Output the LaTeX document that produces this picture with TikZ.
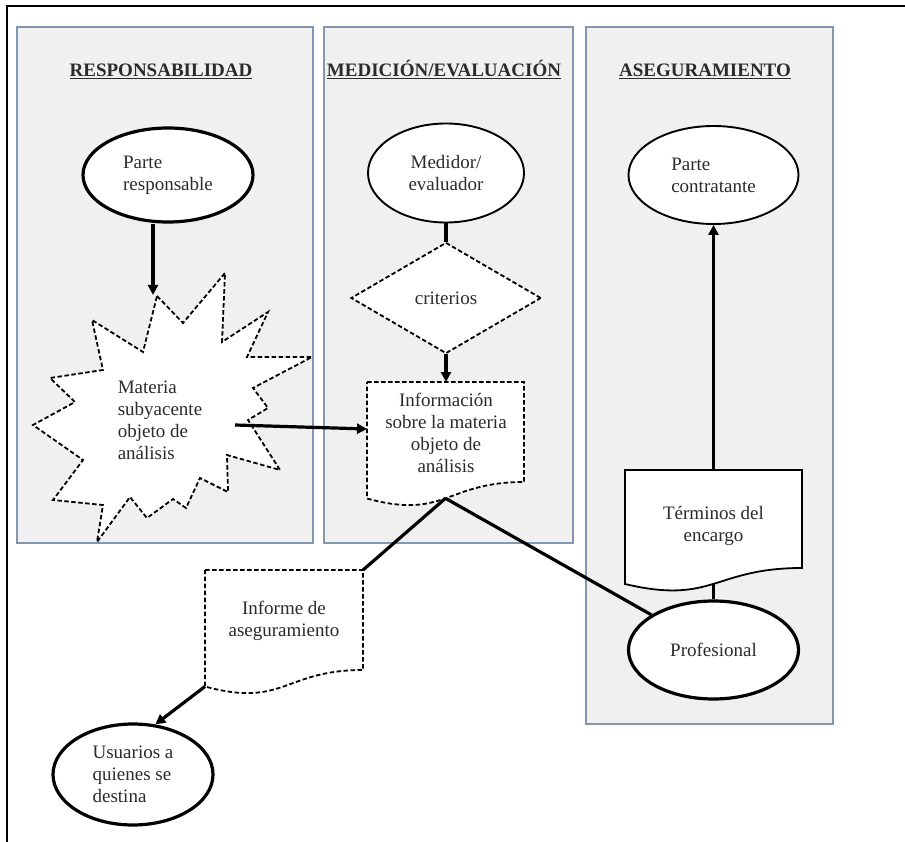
\documentclass[tikz,border=0pt]{standalone}
\usepackage{fontspec}
\setmainfont{Liberation Serif}
\usetikzlibrary{shapes.geometric,arrows.meta}
\definecolor{panelfill}{HTML}{F0F0F0}
\definecolor{paneldraw}{HTML}{8497B0}
\definecolor{txtcol}{HTML}{2B2B2B}
\begin{document}
\begin{tikzpicture}[x=1pt,y=-1pt,
  panel/.style={fill=panelfill,draw=paneldraw,line width=1.5pt},
  hdr/.style={font=\fontsize{19}{22}\selectfont\bfseries,text=txtcol,anchor=base,inner sep=0pt},
  lbl/.style={font=\fontsize{19}{22}\selectfont,text=txtcol,inner sep=0pt},
  ellbase/.style={ellipse,draw,fill=white,inner sep=0pt,font=\fontsize{19}{22}\selectfont,text=txtcol},
  ellthick/.style={ellbase,line width=3.2pt},
  ellthin/.style={ellbase,line width=1.9pt},
  dsh/.style={dash pattern=on 4.5pt off 2.5pt,line width=1.8pt},
  conn/.style={line width=3.2pt},
  arr/.style={conn,-{Triangle[length=10pt,width=10pt]}},
]
\useasboundingbox (0,0) rectangle (905,842);
\fill[white] (0,0) rectangle (905,842);
% frame
\draw[line width=2.6pt] (7,842) -- (7,6) -- (905,6);
% panels
\draw[panel] (17,27) rectangle (313,543);
\draw[panel] (324,27) rectangle (573,543);
\draw[panel] (586,27) rectangle (833,724);
% headers
\node[hdr] (h1) at (161,77) {\underline{RESPONSABILIDAD}};
\node[hdr] (h2) at (444,77) {\underline{MEDICIÓN/EVALUACIÓN}};
\node[hdr] (h3) at (705,77) {\underline{ASEGURAMIENTO}};

% responsabilidad column
\node[ellthick,minimum width=170pt,minimum height=94pt,align=left] (pr) at (168,175) {Parte\\responsable};
\draw[dsh,fill=white] (157,296) -- (183,323) -- (225,273) -- (222,342) -- (268,312) -- (247,357)
  -- (312,357) -- (253,388) -- (268,408) -- (248,420) -- (280,470) -- (227,455) -- (228,492)
  -- (200,478) -- (186,508) -- (173,499) -- (147,518) -- (130,497) -- (97,542) -- (103,505)
  -- (53,500) -- (83,460) -- (33,425) -- (75,402) -- (50,378) -- (103,370) -- (92,320)
  -- (143,352) -- cycle;
\node[lbl,align=left] (mat) at (160,420) {Materia\\subyacente\\objeto de\\análisis};
\coordinate (startip) at (153,295);
\coordinate (starr) at (235,425);

% medicion column
\node[ellthin,minimum width=156pt,minimum height=99pt,align=center] (med) at (446,173) {Medidor/\\evaluador};
\node[diamond,draw,fill=white,dsh,inner sep=0pt,minimum width=190pt,minimum height=111pt,lbl] (crit) at (446,298) {criterios};
\draw[dsh,fill=white] (367,382) -- (524,382) -- (524,482) .. controls (445.5,482) and (445.5,520) .. (367,498.5) -- cycle;
\node[lbl,align=center] (info) at (446,433) {Información\\sobre la materia\\objeto de\\análisis};
\coordinate (infotop) at (446,382);
\coordinate (infoleft) at (367,429);
\coordinate (infobot) at (445.5,498.3);

% aseguramiento column
\node[ellthin,minimum width=170pt,minimum height=98pt,align=left] (pc) at (713.5,175) {Parte\\contratante};
\draw[line width=1.8pt,fill=white] (625,470) -- (802,470) -- (802,568) .. controls (713.5,568) and (713.5,605) .. (625,584) -- cycle;
\node[lbl,align=center] (term) at (713.5,526) {Términos del\\encargo};
\coordinate (termtop) at (713.5,470);
\coordinate (termbot) at (713.5,584);
\node[ellthick,minimum width=170pt,minimum height=98pt] (prof) at (713.5,650) {Profesional};

% informe / usuarios
\draw[dsh,fill=white] (205,570) -- (363,570) -- (363,670) .. controls (284,670) and (284,708) .. (205,686.5) -- cycle;
\node[lbl,align=center] (inf) at (284,621) {Informe de\\aseguramiento};
\coordinate (inftr) at (363,570);
\coordinate (infbl) at (205,686.5);
\node[ellthick,minimum width=160pt,minimum height=101pt,align=left] (us) at (133,774.5) {Usuarios a\\quienes se\\destina};

% connectors
\draw[arr] (pr.south -| startip) -- (startip);
\draw[arr] (starr) -- (infoleft);
\draw[conn] (med.south) -- (crit.north);
\draw[arr] (crit.south) -- (infotop);
\draw[conn] (infobot) -- (inftr);
\draw[conn] (infobot) -- (prof);
\draw[arr] (termtop) -- (pc.south);
\draw[conn] (termbot) -- (prof.north);
\draw[arr] (infbl) -- (us.66);
\end{tikzpicture}
\end{document}
